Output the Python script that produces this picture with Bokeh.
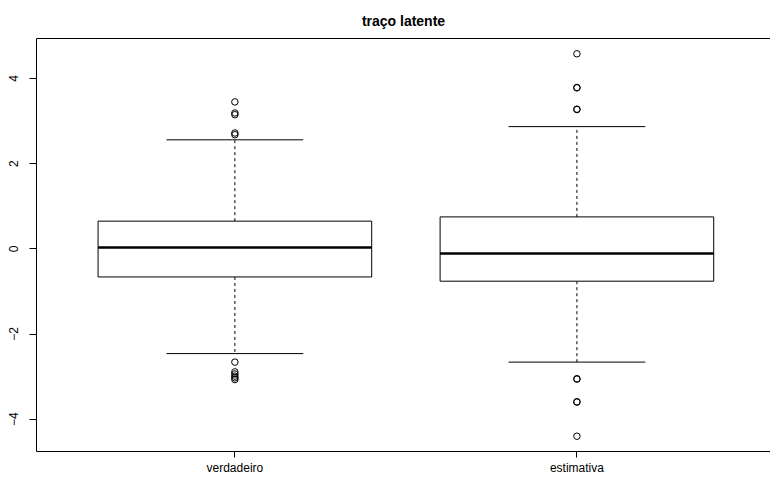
from bokeh.plotting import figure
from bokeh.models import ColumnDataSource, FixedTicker, LinearAxis, Range1d
from bokeh.embed import file_html
from bokeh.resources import INLINE

# ---- data ----
categories = ["verdadeiro", "estimativa"]
q1 = [-0.66, -0.76]
median = [0.03, -0.11]
q3 = [0.65, 0.75]
whisker_low = [-2.46, -2.66]
whisker_high = [2.56, 2.87]
outliers_verdadeiro = [3.45, 3.19, 3.15, 2.72, 2.68,
                       -2.66, -2.89, -2.94, -2.99, -3.03, -3.07]
outliers_estimativa = [4.58, 3.79, 3.78, 3.28, 3.27,
                       -3.05, -3.06, -3.59, -3.60, -4.40]
y_ticks = [-4, -2, 0, 2, 4]
title = "traço latente"

FONT = "Liberation Sans"
box_width = 0.8
staple_width = 0.4

pos = [i + 1 for i in range(len(categories))]
all_out = outliers_verdadeiro + outliers_estimativa
ymin = min(all_out + whisker_low)
ymax = max(all_out + whisker_high)
pad = (ymax - ymin) * 0.04

p = figure(width=770, height=477, output_backend="svg", toolbar_location=None,
           x_range=Range1d(0.42, 2.566), y_range=Range1d(ymin - pad, ymax + pad),
           min_border_left=36, min_border_right=0, min_border_top=38,
           min_border_bottom=24, title=title)
p.background_fill_color = "white"
p.border_fill_color = "white"
p.outline_line_color = None
p.grid.visible = False

p.title.align = "center"
p.title.text_font = FONT
p.title.text_font_size = "14px"
p.title.text_font_style = "bold"
p.title.text_color = "black"
p.title.standoff = 20

src = ColumnDataSource(dict(
    x=pos,
    left=[x - box_width / 2 for x in pos],
    right=[x + box_width / 2 for x in pos],
    sl=[x - staple_width / 2 for x in pos],
    sr=[x + staple_width / 2 for x in pos],
    q1=q1, q3=q3, med=median, lo=whisker_low, hi=whisker_high,
))

# whiskers (dashed)
p.segment(x0="x", x1="x", y0="q3", y1="hi", source=src, line_color="black",
          line_width=1, line_dash="3 3")
p.segment(x0="x", x1="x", y0="q1", y1="lo", source=src, line_color="black",
          line_width=1, line_dash="3 3")
# staples
p.segment(x0="sl", x1="sr", y0="hi", y1="hi", source=src, line_color="black", line_width=1)
p.segment(x0="sl", x1="sr", y0="lo", y1="lo", source=src, line_color="black", line_width=1)
# boxes
p.quad(left="left", right="right", bottom="q1", top="q3", source=src,
       fill_color="white", line_color="black", line_width=1)
# medians
p.segment(x0="left", x1="right", y0="med", y1="med", source=src,
          line_color="black", line_width=2.6)

# outliers
ox = [pos[0]] * len(outliers_verdadeiro) + [pos[1]] * len(outliers_estimativa)
p.scatter(ox, all_out, marker="circle", size=6.5, fill_color=None,
          line_color="black", line_width=1)

# axes
xa = p.xaxis[0]
xa.ticker = FixedTicker(ticks=pos)
xa.major_label_overrides = {x: c for x, c in zip(pos, categories)}
ya = p.yaxis[0]
ya.ticker = FixedTicker(ticks=y_ticks)
ya.major_label_orientation = "vertical"
for ax in (xa, ya):
    ax.minor_tick_line_color = None
    ax.major_tick_in = 0
    ax.axis_line_color = "black"
    ax.major_tick_line_color = "black"
    ax.major_label_text_font = FONT
    ax.major_label_text_font_size = "12px"
    ax.major_label_text_color = "black"
xa.major_tick_out = 6
xa.major_label_standoff = 3
ya.major_tick_out = 7
ya.major_label_standoff = 11

top = LinearAxis(ticker=FixedTicker(ticks=[]), major_tick_out=0, major_tick_in=0,
                 minor_tick_out=0, minor_tick_in=0, major_label_text_font_size="0px",
                 axis_line_color="black")
p.add_layout(top, "above")

open("out.html", "w").write(file_html(p, INLINE))
